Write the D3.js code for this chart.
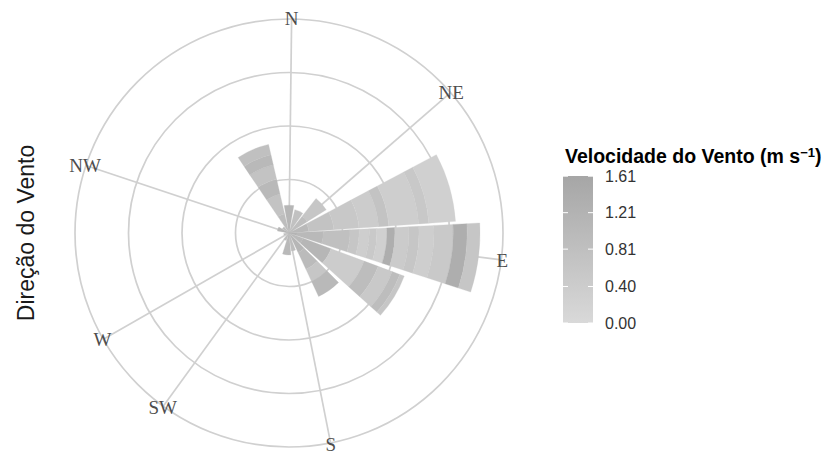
<!DOCTYPE html>
<html><head><meta charset="utf-8">
<script src="https://cdn.jsdelivr.net/npm/d3@7"></script>
<style>body{margin:0;background:#fff}svg{display:block}</style>
</head><body>
<svg id="c" width="836" height="454"></svg>
<script>
// ---- data ----
const dirLabels = ["N","NE","E","S","SW","W","NW"];
const dirAngles = [0.7, 49, 97.2, 168.8, 216, 240.2, 288.4];   // degrees, clockwise from top
const radialBreaks = [1, 2, 3, 4];
const speedBreaks = [0.00, 0.40, 0.81, 1.21, 1.61];
const speedMax = 1.612;
// sectors: start/end angle (deg) and stacked bands [cumulative top, speed]
const sectorStart = [-10, 14, 38, 62, 87, 110.5, 135, 159, 175, 200, 245, 280, 303, 326];
const sectorEnd   = [ 10, 35, 58, 86, 108, 132, 155, 172, 197, 220, 265, 300, 322, 347];
const sectorBands = [
  [[0.52,1.1]],
  [[0.45,0.75]],
  [[0.40,0.85],[0.82,0.6]],
  [[0.37,1.0],[0.84,0.7],[1.31,0.55],[1.68,0.4],[1.87,0.7],[2.43,0.35],[2.62,0.55],[3.12,0.3]],
  [[0.15,1.2],[0.64,1.0],[1.14,0.8],[1.31,0.6],[1.50,0.35],[1.64,0.5],[1.83,0.3],[1.98,1.35],[2.24,0.45],[2.43,0.6],[2.71,0.35],[3.07,0.5],[3.33,1.35],[3.57,0.6]],
  [[0.28,1.0],[0.84,1.1],[1.50,0.4],[1.78,0.9],[2.06,0.5],[2.21,0.9],[2.30,0.6]],
  [[0.40,1.1],[0.75,0.95],[1.00,0.6],[1.31,1.0]],
  [[0.34,0.9]],
  [[0.41,1.0]],
  [[0.15,0.9]],
  [[0.10,0.9]],
  [[0.22,1.1]],
  [[0.15,0.9]],
  [[0.37,0.9],[0.75,0.7],[1.03,1.0],[1.31,0.7],[1.50,1.0],[1.70,0.8]]
];

// ---- layout ----
const svg = d3.select("#c");
const cx = 289, cy = 233, R = 214;
const ang = d3.scaleLinear().domain([0, 360]).range([0, 2 * Math.PI]);
const rad = d3.scaleLinear().domain([0, 4]).range([0, R]);
const fill = d3.scaleLinear().domain([0, speedMax]).range(["#d9d9d9", "#a6a6a6"]);

const g = svg.append("g").attr("transform", `translate(${cx},${cy})`);
const gridCol = "#d0d0d0";

// radial grid circles
g.selectAll("circle.grid").data(radialBreaks).join("circle")
  .attr("r", d => rad(d)).attr("fill", "none")
  .attr("stroke", gridCol).attr("stroke-width", 1.7);
// spokes
g.selectAll("line.spoke").data(dirAngles).join("line")
  .attr("x1", 0).attr("y1", 0)
  .attr("x2", d => Math.sin(ang(d)) * rad(4))
  .attr("y2", d => -Math.cos(ang(d)) * rad(4))
  .attr("stroke", gridCol).attr("stroke-width", 1.7);

// bars
const arc = d3.arc();
const segs = [];
sectorBands.forEach((bands, i) => {
  let prev = 0;
  bands.forEach(([top, sp]) => {
    segs.push({a0: sectorStart[i], a1: sectorEnd[i], r0: prev, r1: top, sp});
    prev = top;
  });
});
g.selectAll("path.seg").data(segs).join("path")
  .attr("d", d => arc({innerRadius: rad(d.r0), outerRadius: rad(d.r1),
                       startAngle: ang(d.a0), endAngle: ang(d.a1)}))
  .attr("fill", d => fill(d.sp))
  .attr("stroke", d => fill(d.sp)).attr("stroke-width", 0.3);

// direction labels
g.selectAll("text.dir").data(dirLabels).join("text")
  .attr("x", (d, i) => Math.sin(ang(dirAngles[i])) * (rad(4) + 1))
  .attr("y", (d, i) => -Math.cos(ang(dirAngles[i])) * (rad(4) + 1))
  .attr("dy", "0.35em").attr("text-anchor", "middle")
  .attr("font-family", "Liberation Serif, Times New Roman, serif")
  .attr("font-size", 19).attr("fill", "#4d4d4d")
  .text(d => d);

// y axis title
svg.append("text")
  .attr("transform", "translate(34,233) rotate(-90)")
  .attr("text-anchor", "middle")
  .attr("font-family", "Liberation Sans, Arial, sans-serif")
  .attr("font-size", 23).attr("fill", "#1a1a1a")
  .text("Direção do Vento");

// legend
const lx = 563, lw = 30, ly0 = 176, ly1 = 323;
const title = svg.append("text").attr("x", 565).attr("y", 163)
  .attr("font-family", "Liberation Sans, Arial, sans-serif")
  .attr("font-size", 19.5).attr("font-weight", "bold").attr("fill", "#000");
title.append("tspan").text("Velocidade do Vento (m s");
title.append("tspan").attr("dy", -6).attr("font-size", 13).text("−1");
title.append("tspan").attr("dy", 6).text(")");

const defs = svg.append("defs");
const grad = defs.append("linearGradient").attr("id", "lg")
  .attr("x1", 0).attr("y1", 1).attr("x2", 0).attr("y2", 0);
grad.append("stop").attr("offset", 0).attr("stop-color", fill(0));
grad.append("stop").attr("offset", 1).attr("stop-color", fill(speedMax));
const ls = d3.scaleLinear().domain([0, speedMax]).range([ly1, ly0]);
svg.append("rect").attr("x", lx).attr("y", ly0).attr("width", lw).attr("height", ly1 - ly0)
  .attr("fill", "url(#lg)");
const tk = svg.append("g");
speedBreaks.forEach(v => {
  tk.append("line").attr("x1", lx).attr("x2", lx + 5).attr("y1", ls(v)).attr("y2", ls(v))
    .attr("stroke", "#fff").attr("stroke-width", 1);
  tk.append("line").attr("x1", lx + lw - 5).attr("x2", lx + lw).attr("y1", ls(v)).attr("y2", ls(v))
    .attr("stroke", "#fff").attr("stroke-width", 1);
  tk.append("text").attr("x", 605).attr("y", ls(v)).attr("dy", "0.35em")
    .attr("font-family", "Liberation Sans, Arial, sans-serif")
    .attr("font-size", 16).attr("fill", "#333").text(v.toFixed(2));
});
</script>
</body></html>
